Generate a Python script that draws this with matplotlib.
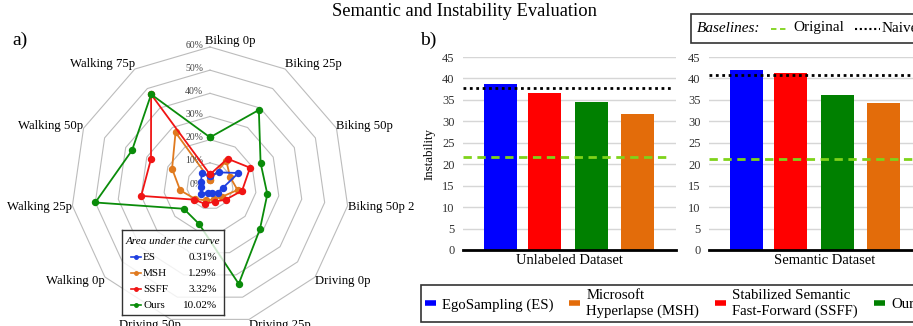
import numpy as np
import matplotlib
matplotlib.use('Agg')
import matplotlib.pyplot as plt
from matplotlib.lines import Line2D
from matplotlib.patches import Rectangle

plt.rcParams['font.family'] = ['Liberation Serif', 'DejaVu Serif']

W, H = 913, 326

# radar: percentage per video
categories = ['Biking 0p', 'Biking 25p', 'Biking 50p', 'Biking 50p 2', 'Driving 0p',
              'Driving 25p', 'Driving 50p', 'Walking 0p', 'Walking 25p', 'Walking 50p',
              'Walking 75p']
es_vals = [4.3, 7, 13.5, 5.6, 4.3, 3, 3, 5, 4, 4.3, 6.5]
msh_vals = [2.6, 13, 9.5, 12, 7, 6, 6.5, 8.5, 13, 18, 27.5]
ssff_vals = [5, 14, 19, 14, 9, 7, 8, 9, 30, 28, 47]
ours_vals = [21, 39, 24, 25, 28.5, 44, 17, 15, 50, 37, 47]
auc = ['0.31%', '1.29%', '3.32%', '10.02%']
rings = [10, 20, 30, 40, 50, 60]

# bars: instability per dataset
datasets = ['Unlabeled Dataset', 'Semantic Dataset']
es_inst = [38.8, 41.9]
ssff_inst = [36.7, 41.2]
ours_inst = [34.4, 36.1]
msh_inst = [31.7, 34.3]
original = [21.7, 21.2]
naive = [37.7, 40.8]
yticks = [0, 5, 10, 15, 20, 25, 30, 35, 40, 45]

C_ES, C_MSH, C_SSFF, C_OURS = '#1f3fe0', '#e07a1f', '#f01414', '#0a8c0a'
B_ES, B_MSH, B_SSFF, B_OURS = '#0000ff', '#e36c0a', '#ff0000', '#008000'


def px(x0, y0, w, h):
    # pixel box (top-left origin) -> figure fraction rect
    return [x0 / W, 1 - (y0 + h) / H, w / W, h / H]


fig = plt.figure(figsize=(W / 100, H / 100), dpi=100)

# ---------------- radar ----------------
scale = 2.317  # px per percent
half = 70
ax = fig.add_axes(px(210 - half * scale, 186 - half * scale, 2 * half * scale, 2 * half * scale))
ax.set_xlim(-half, half)
ax.set_ylim(-half, half)
ax.axis('off')

n = len(categories)
theta = np.arange(n) * 2 * np.pi / n
sx, cy = np.sin(theta), np.cos(theta)

for r in rings:
    ax.plot(np.append(r * sx, r * sx[0]), np.append(r * cy, r * cy[0]),
            color='#bcbcbc', lw=0.8, zorder=1)
    ax.text(-3, r + 0.8, f'{r}%', ha='right', va='center', fontsize=7, color='#444444')
ax.text(-3, 0.8, '0%', ha='right', va='center', fontsize=7, color='#444444')

series = [(msh_vals, C_MSH, 2), (es_vals, C_ES, 3), (ssff_vals, C_SSFF, 4), (ours_vals, C_OURS, 5)]
for vals, col, z in series:
    v = np.array(vals + vals[:1])
    ax.plot(v * np.append(sx, sx[0]), v * np.append(cy, cy[0]), color=col, lw=1.3,
            marker='o', ms=4.3, zorder=z)

R = 60
for i, name in enumerate(categories):
    x, y = R * sx[i], R * cy[i] + 2.6 * cy[i]
    if i == 0:
        ha, x = 'left', x - 2
    elif i == 6:
        ha, x = 'right', x + 4.5
    elif sx[i] > 0:
        ha = 'left'
    else:
        ha = 'right'
    ax.text(x, y, name, ha=ha, va='center', fontsize=9.2)

# area-under-curve box
lg = fig.add_axes(px(122, 230, 102, 85))
lg.set_xlim(0, 102)
lg.set_ylim(85, 0)
lg.set_xticks([])
lg.set_yticks([])
lg.patch.set_facecolor('white')
lg.patch.set_alpha(0.8)
for s in lg.spines.values():
    s.set_color('#333333')
    s.set_linewidth(1)
lg.text(51, 12, 'Area under the curve', style='italic', ha='center', va='center', fontsize=8)
for k, (name, col, val) in enumerate(zip(['ES', 'MSH', 'SSFF', 'Ours'],
                                          [C_ES, C_MSH, C_SSFF, C_OURS], auc)):
    yy = 27 + 16 * k
    lg.plot([9, 19], [yy, yy], color=col, lw=1.2)
    lg.plot([14], [yy], 'o', color=col, ms=2.5)
    lg.text(21, yy, name, ha='left', va='center', fontsize=8)
    lg.text(95, yy, val, ha='right', va='center', fontsize=8)

# ---------------- bars ----------------
centers = [37, 81, 128.5, 174.5]
bar_sets = [es_inst, ssff_inst, ours_inst, msh_inst]
bar_cols = [B_ES, B_SSFF, B_OURS, B_MSH]
boxes = [px(463, 57, 213, 193), px(709, 57, 232, 193)]
widths = [213, 232]

for j, name in enumerate(datasets):
    bx = fig.add_axes(boxes[j])
    bx.set_xlim(0, widths[j])
    bx.set_ylim(0, 45)
    for c, vals, col in zip(centers, bar_sets, bar_cols):
        bx.bar(c, vals[j], width=33, color=col, zorder=2)
    bx.axhline(naive[j], xmin=0, xmax=0.98, color='black', lw=2, ls=(0, (1, 1.3)), zorder=3)
    bx.axhline(original[j], xmin=0, xmax=0.96, color='#7fd31a', lw=2, ls=(0, (3, 2)), zorder=3)
    bx.set_yticks(yticks)
    bx.yaxis.grid(True, color='#d6d6d6', lw=1)
    bx.set_axisbelow(True)
    bx.set_xticks([])
    bx.tick_params(axis='y', length=0, pad=6, labelsize=9, labelcolor='#333333')
    for s in ['top', 'right', 'left']:
        bx.spines[s].set_visible(False)
    bx.spines['bottom'].set_linewidth(2)
    bx.spines['bottom'].set_zorder(4)
    bx.set_xlabel(name, fontsize=10.5, labelpad=3)
    if j == 0:
        bx.set_ylabel('Instability', fontsize=9.4, labelpad=5)

# method legend under the bars
handles = [Line2D([], [], color=c, lw=4, solid_capstyle='butt') for c in [B_ES, B_MSH, B_SSFF, B_OURS]]
labels = ['EgoSampling (ES)', 'Microsoft\nHyperlapse (MSH)', 'Stabilized Semantic\nFast-Forward (SSFF)', 'Ours']
leg = fig.legend(handles, labels, loc='upper left', bbox_to_anchor=(421 / W, 1 - 285 / H),
                 ncol=4, fontsize=10.6, frameon=True, fancybox=False, edgecolor='#333333',
                 framealpha=1, borderaxespad=0, borderpad=0.25, handlelength=0.75,
                 handletextpad=0.4, columnspacing=1.1)
leg.get_frame().set_linewidth(1.2)
for t in leg.get_texts():
    t.set_linespacing(1.3)

# baselines key
fig.add_artist(Rectangle((691 / W, 1 - 43 / H), 300 / W, 29 / H, transform=fig.transFigure,
                         facecolor='white', edgecolor='#333333', lw=1.2))
yb = 1 - 29 / H
fig.text(697 / W, yb, 'Baselines:', style='italic', fontsize=11, va='center')
fig.add_artist(Line2D([771 / W, 789 / W], [yb, yb], transform=fig.transFigure,
                      color='#7fd31a', lw=1.3, ls=(0, (3, 2))))
fig.text(793 / W, yb + 2 / H, 'Original', fontsize=11, va='center')
fig.add_artist(Line2D([855 / W, 880 / W], [yb, yb], transform=fig.transFigure,
                      color='black', lw=1.5, ls=(0, (1, 1.3))))
fig.text(882 / W, yb, 'Naive', fontsize=11, va='center')

fig.text(464 / W, 1 - 12 / H, 'Semantic and Instability Evaluation', ha='center', va='center', fontsize=13.3)
fig.text(12 / W, 1 - 40 / H, 'a)', fontsize=14, va='center')
fig.text(420 / W, 1 - 40 / H, 'b)', fontsize=14, va='center')

fig.savefig('out.png', dpi=100)
